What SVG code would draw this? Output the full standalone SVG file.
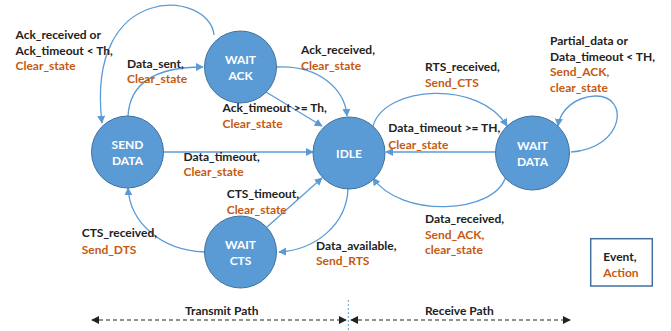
<svg xmlns="http://www.w3.org/2000/svg" width="671" height="331" viewBox="0 0 671 331">
<style>
.node{fill:#5B9BD5;stroke:#41719C;stroke-width:1}
.nt{font-family:Lato,"Liberation Sans",sans-serif;font-weight:bold;font-size:12px;fill:#fff;text-anchor:middle}
.t{font-family:Lato,"Liberation Sans",sans-serif;font-weight:bold;font-size:12px;fill:#222}
.o{fill:#C55A11}
.c{fill:none;stroke:#5B9BD5;stroke-width:1.3}
.d{fill:none;stroke:#222;stroke-width:1.2;stroke-dasharray:4,3}
</style>
<defs>
<marker id="a" viewBox="0 0 10 10" refX="9" refY="5" markerWidth="8" markerHeight="8" markerUnits="userSpaceOnUse" orient="auto"><path d="M0,0L10,5L0,10z" fill="#5B9BD5"/></marker>
<marker id="k" viewBox="0 0 10 10" refX="9" refY="5" markerWidth="8" markerHeight="8" markerUnits="userSpaceOnUse" orient="auto-start-reverse"><path d="M0,0L10,5L0,10z" fill="#222"/></marker>
</defs>
<g id="connectors">
<path class="c" marker-end="url(#a)" d="M214,35 C210,-10 85,-20 102,123"/>
<path class="c" marker-end="url(#a)" d="M128,116 C130,80 160,67 203,67"/>
<path class="c" marker-end="url(#a)" d="M277,67 C320,65 345,90 347,116"/>
<path class="c" marker-end="url(#a)" d="M266,92 L322,126"/>
<path class="c" marker-end="url(#a)" d="M164,152 L313,152"/>
<path class="c" marker-end="url(#a)" d="M373,126 C385,85 480,80 507,126"/>
<path class="c" marker-end="url(#a)" d="M496,152 L386,152"/>
<path class="c" marker-end="url(#a)" d="M571,152 C625,148 630,95 595,96 C575,97 560,110 558,126"/>
<path class="c" marker-end="url(#a)" d="M506,176 C495,215 400,218 373,178"/>
<path class="c" marker-end="url(#a)" d="M348,188 C347,225 315,250 279,252"/>
<path class="c" marker-end="url(#a)" d="M267,227 L322,178"/>
<path class="c" marker-end="url(#a)" d="M204,252 C160,250 130,222 128,188"/>
</g>
<g id="n-waitack"><circle class="node" cx="240.5" cy="67" r="36"/><text class="nt" x="240.5" y="63.5">WAIT</text><text class="nt" x="240.5" y="79.5">ACK</text></g>
<g id="n-senddata"><circle class="node" cx="127.5" cy="152" r="36"/><text class="nt" x="127.5" y="148.5">SEND</text><text class="nt" x="127.5" y="164.5">DATA</text></g>
<g id="n-idle"><circle class="node" cx="349" cy="153" r="36"/><text class="nt" x="349" y="157.5">IDLE</text></g>
<g id="n-waitdata"><circle class="node" cx="532.5" cy="153" r="37"/><text class="nt" x="532.5" y="149.5">WAIT</text><text class="nt" x="532.5" y="165.5">DATA</text></g>
<g id="n-waitcts"><circle class="node" cx="240.5" cy="252" r="36"/><text class="nt" x="240.5" y="248.5">WAIT</text><text class="nt" x="240.5" y="264.5">CTS</text></g>
<g id="labels">
<text class="t" x="15.5" y="38.5">Ack_received or</text>
<text class="t" x="15.5" y="54.5">Ack_timeout &lt; Th,</text>
<text class="t o" x="15.5" y="70">Clear_state</text>
<text class="t" x="127" y="67.5">Data_sent,</text>
<text class="t o" x="127" y="82.5">Clear_state</text>
<text class="t" x="301" y="53.5">Ack_received,</text>
<text class="t o" x="301" y="69.5">Clear_state</text>
<text class="t" x="222.5" y="111.5">Ack_timeout &gt;= Th,</text>
<text class="t o" x="222.5" y="127.5">Clear_state</text>
<text class="t" x="183.5" y="161">Data_timeout,</text>
<text class="t o" x="183.5" y="176">Clear_state</text>
<text class="t" x="425" y="71">RTS_received,</text>
<text class="t o" x="425" y="86.8">Send_CTS</text>
<text class="t" x="550" y="44.5">Partial_data or</text>
<text class="t" x="550" y="60.5">Data_timeout &lt; TH,</text>
<text class="t o" x="550" y="76">Send_ACK,</text>
<text class="t o" x="550" y="92">clear_state</text>
<text class="t" x="388.3" y="131.8">Data_timeout &gt;= TH,</text>
<text class="t o" x="388.3" y="148.5">Clear_state</text>
<text class="t" x="226.7" y="197.8">CTS_timeout,</text>
<text class="t o" x="226.7" y="213.5">Clear_state</text>
<text class="t" x="81.7" y="237">CTS_received,</text>
<text class="t o" x="81.7" y="253.8">Send_DTS</text>
<text class="t" x="316" y="249.5">Data_available,</text>
<text class="t o" x="316" y="264.5">Send_RTS</text>
<text class="t" x="425" y="222.8">Data_received,</text>
<text class="t o" x="425" y="238.5">Send_ACK,</text>
<text class="t o" x="425" y="253.8">clear_state</text>
</g>
<g id="legend">
<rect x="590.7" y="238.7" width="61.6" height="47.3" fill="#fff" stroke="#41719C" stroke-width="1.5"/>
<text class="t" x="603.3" y="261">Event,</text>
<text class="t o" x="603.3" y="276.5">Action</text>
</g>
<g id="paths">
<text class="t" x="185" y="315">Transmit Path</text>
<text class="t" x="425" y="315">Receive Path</text>
<path class="d" marker-start="url(#k)" marker-end="url(#k)" d="M92,320 L346,320"/>
<path class="d" marker-start="url(#k)" marker-end="url(#k)" d="M351,320 L570,320"/>
<path d="M348.3,300 L348.3,331" stroke="#5B9BD5" stroke-width="1" stroke-dasharray="2,2" fill="none"/>
</g>
</svg>
